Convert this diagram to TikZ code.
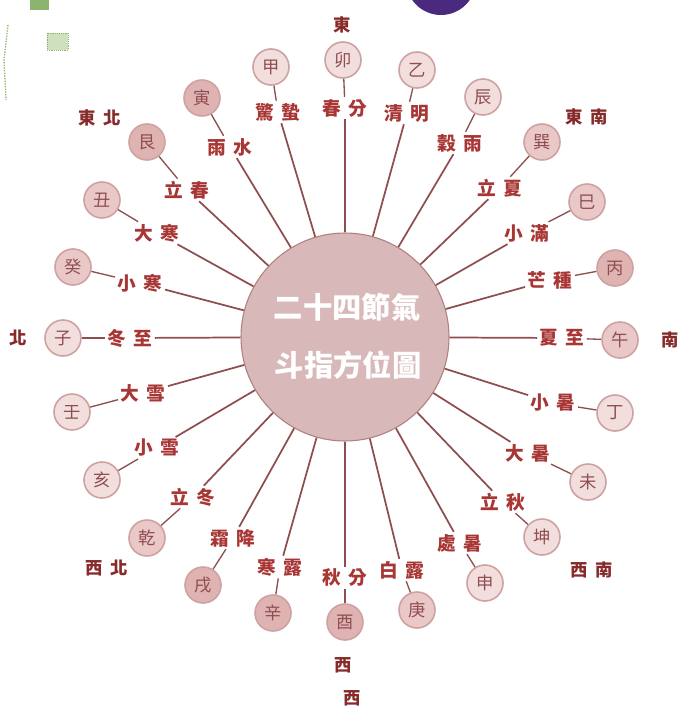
\documentclass[tikz,border=0pt]{standalone}
\usepackage{fontspec}
\newfontfamily\cjk{Noto Sans CJK TC}
\definecolor{txt}{HTML}{A83634}
\definecolor{ln}{HTML}{8E4E50}
\definecolor{cfill}{HTML}{F3DEDE}
\definecolor{cfillm}{HTML}{EBC8C8}
\definecolor{cfillb}{HTML}{E0B3B3}
\definecolor{cdraw}{HTML}{CFA2A2}
\definecolor{hub}{HTML}{D8B8B8}
\definecolor{hubline}{HTML}{B08080}
\definecolor{purp}{HTML}{4A2A7E}
\definecolor{gdark}{HTML}{8DB46E}
\definecolor{glight}{HTML}{CFE0BE}
\newcommand\dd[2]{#1\hspace{6pt}#2}
\begin{document}
\begin{tikzpicture}[x=0.75pt,y=-0.75pt,
  term/.style={font=\cjk\bfseries\fontsize{14}{14}\selectfont, text=txt, inner sep=1.5pt},
  dirlab/.style={font=\cjk\bfseries\fontsize{13}{13}\selectfont, text=txt!80!black, inner sep=1pt},
  mtn/.style={circle, minimum size=27pt, inner sep=0pt, draw=cdraw, line width=1.2pt, fill=cfill, font=\cjk\fontsize{13}{13}\selectfont, text=ln},
  mtnm/.style={mtn, fill=cfillm},
  mtnb/.style={mtn, fill=cfillb},
  spoke/.style={draw=ln, line width=1.3pt},
  tick/.style={draw=ln, line width=1pt},
  hubtext/.style={font=\cjk\bfseries\fontsize{22}{22}\selectfont, text=white, inner sep=0pt}]
\useasboundingbox (0,0) rectangle (681,710);
\fill[white] (0,0) rectangle (681,710);
% cropped fragments of neighbouring pictures
\fill[purp] (441,-20) circle[radius=26.25pt];
\fill[gdark] (30,-2) rectangle (49,10);
\fill[glight, draw=gdark, densely dotted] (47,33) rectangle (68,50);
\draw[gdark, densely dotted, line width=1pt] (8,25) -- (4,60) -- (6,100);
% hub
\node[circle, minimum size=156pt, fill=hub, draw=hubline, line width=0.8pt] (C) at (345,337) {};
\node[hubtext] (h1) at (347,307) {二十四節氣};
\node[hubtext] (h2) at (348,365) {斗指方位圖};
% solar terms
\node[term] (t1) at (345,108) {\dd{春}{分}};
\node[term] (t2) at (407,113) {\dd{清}{明}};
\node[term] (t3) at (460,143) {\dd{穀}{雨}};
\node[term] (t4) at (500,188) {\dd{立}{夏}};
\node[term] (t5) at (527,233) {\dd{小}{滿}};
\node[term] (t6) at (550,280) {\dd{芒}{種}};
\node[term] (t7) at (562,338) {\dd{夏}{至}};
\node[term] (t8) at (553,403) {\dd{小}{暑}};
\node[term] (t9) at (528,453) {\dd{大}{暑}};
\node[term] (t10) at (503,502) {\dd{立}{秋}};
\node[term] (t11) at (460,543) {\dd{處}{暑}};
\node[term] (t12) at (402,570) {\dd{白}{露}};
\node[term] (t13) at (345,578) {\dd{秋}{分}};
\node[term] (t14) at (280,567) {\dd{寒}{露}};
\node[term] (t15) at (233,538) {\dd{霜}{降}};
\node[term] (t16) at (193,497) {\dd{立}{冬}};
\node[term] (t17) at (157,448) {\dd{小}{雪}};
\node[term] (t18) at (143,393) {\dd{大}{雪}};
\node[term] (t19) at (130,338) {\dd{冬}{至}};
\node[term] (t20) at (140,283) {\dd{小}{寒}};
\node[term] (t21) at (157,233) {\dd{大}{寒}};
\node[term] (t22) at (187,190) {\dd{立}{春}};
\node[term] (t23) at (230,147) {\dd{雨}{水}};
\node[term] (t24) at (278,112) {\dd{驚}{蟄}};
% twenty-four mountains
\node[mtn]  (c1) at (343,60) {卯};
\node[mtn]  (c2) at (417,70) {乙};
\node[mtn]  (c3) at (483,97) {辰};
\node[mtnm] (c4) at (542,142) {巽};
\node[mtnm] (c5) at (587,202) {巳};
\node[mtnb] (c6) at (615,268) {丙};
\node[mtnm] (c7) at (620,340) {午};
\node[mtn]  (c8) at (615,413) {丁};
\node[mtn]  (c9) at (588,482) {未};
\node[mtn]  (c10) at (542,537) {坤};
\node[mtn]  (c11) at (485,583) {申};
\node[mtnm] (c12) at (417,610) {庚};
\node[mtnb] (c13) at (345,622) {酉};
\node[mtnb] (c14) at (273,613) {辛};
\node[mtnb] (c15) at (203,585) {戌};
\node[mtnm] (c16) at (147,538) {乾};
\node[mtn]  (c17) at (102,480) {亥};
\node[mtn]  (c18) at (72,412) {壬};
\node[mtn]  (c19) at (63,338) {子};
\node[mtnm] (c20) at (73,267) {癸};
\node[mtnm] (c21) at (102,200) {丑};
\node[mtnb] (c22) at (147,142) {艮};
\node[mtnb] (c23) at (202,98) {寅};
\node[mtn]  (c24) at (271,67) {甲};
% compass directions
\node[dirlab] (dE) at (342,25) {東};
\node[dirlab] (dSE) at (587,117) {\dd{東}{南}};
\node[dirlab] (dS) at (670,340) {南};
\node[dirlab] (dSW) at (592,570) {\dd{西}{南}};
\node[dirlab] (dW) at (343,665) {西};
\node[dirlab] (dW2) at (352,698) {西};
\node[dirlab] (dNW) at (107,568) {\dd{西}{北}};
\node[dirlab] (dN) at (18,338) {北};
\node[dirlab] (dNE) at (100,118) {\dd{東}{北}};
% spokes and ticks
\foreach \i in {1,...,24} {
  \draw[spoke] (C) -- (t\i);
  \draw[tick] (t\i) -- (c\i);
}
\end{tikzpicture}
\end{document}
